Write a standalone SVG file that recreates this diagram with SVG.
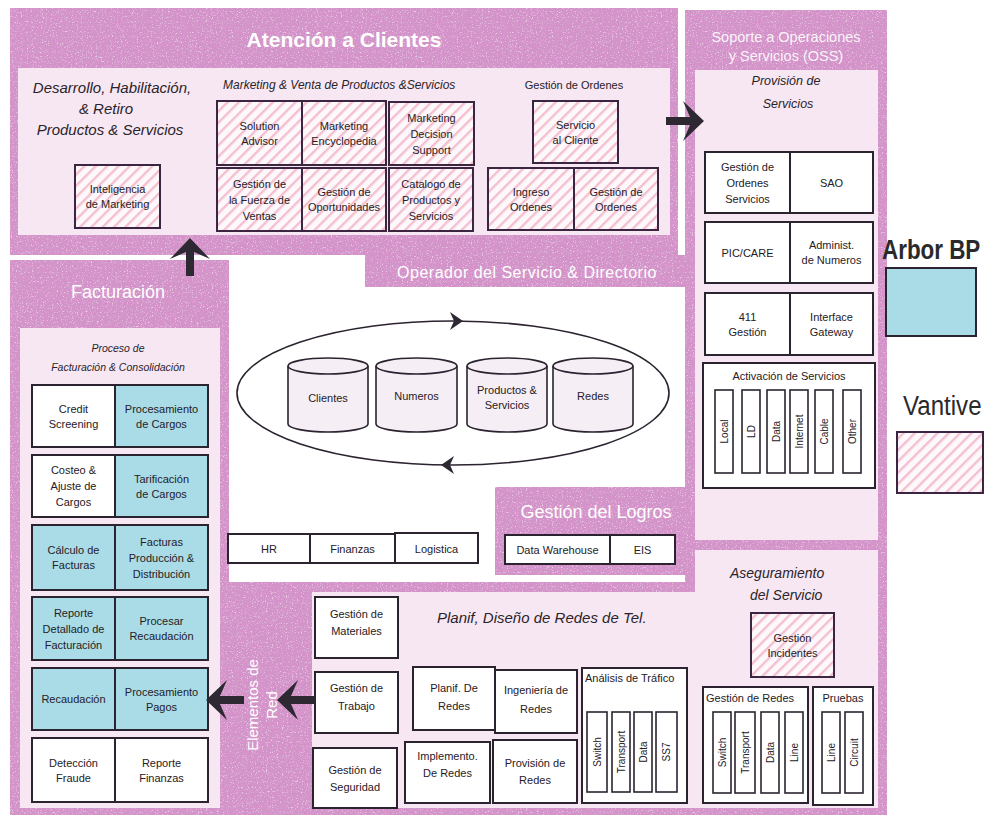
<svg xmlns="http://www.w3.org/2000/svg" width="993" height="818" viewBox="0 0 993 818">
<defs>
  <pattern id="hatch" patternUnits="userSpaceOnUse" width="8" height="8" patternTransform="rotate(45)">
    <rect width="8" height="8" fill="#fdf8fb"/>
    <rect width="2.4" height="8" fill="#f4c0d0"/>
  </pattern>
  <filter id="grain" x="0" y="0" width="1" height="1">
    <feTurbulence type="fractalNoise" baseFrequency="0.8" numOctaves="2" seed="7" result="n"/>
    <feColorMatrix in="n" type="matrix" values="0 0 0 0 0.6  0 0 0 0 0.34  0 0 0 0 0.58  2.6 0 0 0 -1.2" result="dk"/>
    <feColorMatrix in="n" type="matrix" values="0 0 0 0 1  0 0 0 0 0.88  0 0 0 0 0.97  0 2.4 0 0 -1.4" result="lt"/>
    <feMerge result="m"><feMergeNode in="SourceGraphic"/><feMergeNode in="dk"/><feMergeNode in="lt"/></feMerge>
    <feComposite in="m" in2="SourceGraphic" operator="in"/>
  </filter>
  <path id="arw" d="M0,0 L-21,-20 L-14,-4 L-38,-4 L-38,4 L-14,4 L-21,20 Z"/>
  <style>
    .pk{fill:#d591c9;filter:url(#grain)}
    .pn{fill:#f7e7f3}
    .bx{fill:#fff;stroke:#2b2330;stroke-width:2}
    .ht{fill:url(#hatch);stroke:#3b2540;stroke-width:2}
    .bl{fill:#a9dce7;stroke:#2b2330;stroke-width:2}
    .bar{fill:#fff;stroke:#2b2330;stroke-width:1.6}
    .db{fill:#f6eef5;stroke:#2b2330;stroke-width:1.6}
    .edge{fill:none;stroke:#2b2330;stroke-width:1.6}
    text{font-family:"Liberation Sans",Arial,sans-serif}
    .t{font-size:11px;fill:#262026;text-anchor:middle}
    .tl{font-size:11px;fill:#262026}
    .tv{font-size:10px;fill:#262026;text-anchor:middle;dominant-baseline:central}
    .hd{fill:#fff;text-anchor:middle}
    .it{font-style:italic;fill:#2a242a}
    .lg{font-size:28px;fill:#2a2a2a}
    .ar{fill:#2e2832}
    .cyc{fill:none;stroke:#2b2330;stroke-width:1.6}
  </style>
</defs>

<rect width="993" height="818" fill="#fff"/>

<!-- background areas -->
<g id="areas">
  <rect class="pk" x="10" y="8" width="668" height="247"/>
  <rect class="pn" x="18" y="68" width="652" height="167"/>
  <rect class="pk" x="685" y="10" width="202" height="805"/>
  <rect class="pn" x="695" y="70" width="183" height="470"/>
  <rect class="pk" x="365" y="255" width="325" height="32"/>
  <rect class="pk" x="10" y="260" width="219" height="555"/>
  <rect class="pn" x="20" y="328" width="200" height="480"/>
  <rect class="pk" x="495" y="487" width="195" height="88"/>
  <rect class="pk" x="229" y="582" width="658" height="233"/>
  <path class="pn" d="M312,592 H695 V550 H878 V808 H312 Z"/>
</g>

<!-- section headings -->
<g id="headings">
  <text class="hd" x="344" y="47" font-size="21" font-weight="bold">Atención a Clientes</text>
  <text class="hd" x="786" y="42" font-size="14.5" fill-opacity="0.9">Soporte a Operaciones</text>
  <text class="hd" x="786" y="61" font-size="14.5" fill-opacity="0.9">y Servicios (OSS)</text>
  <text class="hd" x="527" y="278" font-size="16" letter-spacing="0.5">Operador del Servicio &amp; Directorio</text>
  <text class="hd" x="118" y="298" font-size="18">Facturación</text>
  <text class="hd" x="596" y="518" font-size="18">Gestión del Logros</text>
  <text class="hd" font-size="15" transform="translate(258,705) rotate(-90)"><tspan x="0" y="0">Elementos de</tspan><tspan x="0" y="19">Red</tspan></text>
  <text class="it" x="112" y="93" font-size="15" text-anchor="middle">Desarrollo, Habilitación,</text>
  <text class="it" x="106" y="114" font-size="15" text-anchor="middle">&amp; Retiro</text>
  <text class="it" x="110" y="135" font-size="15" text-anchor="middle">Productos &amp; Servicios</text>
  <text class="it" x="223" y="89" font-size="12">Marketing &amp; Venta de Productos &amp;Servicios</text>
  <text class="t" x="574" y="89">Gestión de Ordenes</text>
  <text class="it" x="786" y="85" font-size="12.5" text-anchor="middle">Provisión de</text>
  <text class="it" x="788" y="108" font-size="12.5" text-anchor="middle">Servicios</text>
  <text class="it" x="118" y="352" font-size="10.5" text-anchor="middle">Proceso de</text>
  <text class="it" x="118" y="371" font-size="10.5" text-anchor="middle">Facturación &amp; Consolidación</text>
  <text class="it" x="437" y="623" font-size="15">Planif, Diseño de Redes de Tel.</text>
  <text class="it" x="730" y="578" font-size="14">Aseguramiento</text>
  <text class="it" x="750" y="600" font-size="14">del Servicio</text>
</g>

<!-- customer care -->
<g id="inteligencia-marketing"><rect class="ht" x="75" y="165" width="85" height="63"/><text class="t" x="117.5" y="193">Inteligencia<tspan x="117.5" y="208">de Marketing</tspan></text></g>
<g id="solution-advisor"><rect class="ht" x="217" y="101" width="85" height="64"/><text class="t" x="259.5" y="129.5">Solution<tspan x="259.5" y="144.5">Advisor</tspan></text></g>
<g id="marketing-encyclopedia"><rect class="ht" x="302" y="101" width="84" height="64"/><text class="t" x="344" y="129.5">Marketing<tspan x="344" y="144.5">Encyclopedia</tspan></text></g>
<g id="marketing-decision"><rect class="ht" x="389" y="102" width="85" height="63"/><text class="t" x="431.5" y="121.5">Marketing<tspan x="431.5" y="137.5">Decision</tspan><tspan x="431.5" y="153.5">Support</tspan></text></g>
<g id="fuerza-ventas"><rect class="ht" x="217" y="168" width="85" height="63"/><text class="t" x="259.5" y="187.5">Gestión de<tspan x="259.5" y="203.5">la Fuerza de</tspan><tspan x="259.5" y="219.5">Ventas</tspan></text></g>
<g id="oportunidades"><rect class="ht" x="302" y="168" width="84" height="63"/><text class="t" x="344" y="196">Gestión de<tspan x="344" y="211">Oportunidades</tspan></text></g>
<g id="catalogo"><rect class="ht" x="389" y="168" width="84" height="63"/><text class="t" x="431" y="187.5">Catalogo de<tspan x="431" y="203.5">Productos y</tspan><tspan x="431" y="219.5">Servicios</tspan></text></g>
<g id="servicio-cliente"><rect class="ht" x="533" y="101" width="85" height="62"/><text class="t" x="575.5" y="128.5">Servicio<tspan x="575.5" y="143.5">al Cliente</tspan></text></g>
<g id="ingreso-ordenes"><rect class="ht" x="488" y="168" width="86" height="62"/><text class="t" x="531" y="195.5">Ingreso<tspan x="531" y="210.5">Ordenes</tspan></text></g>
<g id="gestion-ordenes"><rect class="ht" x="574" y="168" width="84" height="62"/><text class="t" x="616" y="195.5">Gestión de<tspan x="616" y="210.5">Ordenes</tspan></text></g>

<!-- OSS -->
<g id="ordenes-servicios"><rect class="bx" x="705" y="152" width="85" height="61"/><text class="t" x="747.5" y="170.5">Gestión de<tspan x="747.5" y="186.5">Ordenes</tspan><tspan x="747.5" y="202.5">Servicios</tspan></text></g>
<g id="sao"><rect class="bx" x="790" y="152" width="83" height="61"/><text class="t" x="831.5" y="186.5">SAO</text></g>
<g id="pic-care"><rect class="bx" x="705" y="222" width="85" height="61"/><text class="t" x="747.5" y="256.5">PIC/CARE</text></g>
<g id="admin-numeros"><rect class="bx" x="790" y="222" width="83" height="61"/><text class="t" x="831.5" y="249">Administ.<tspan x="831.5" y="264">de Numeros</tspan></text></g>
<g id="gestion-411"><rect class="bx" x="705" y="293" width="85" height="62"/><text class="t" x="747.5" y="320.5">411<tspan x="747.5" y="335.5">Gestión</tspan></text></g>
<g id="interface-gateway"><rect class="bx" x="790" y="293" width="83" height="62"/><text class="t" x="831.5" y="320.5">Interface<tspan x="831.5" y="335.5">Gateway</tspan></text></g>
<g id="activacion-servicios">
  <rect class="bx" x="703" y="363" width="172" height="125"/>
  <text class="t" x="789" y="380">Activación de Servicios</text>
  <rect class="bar" x="715" y="390" width="18" height="83"/><text class="tv" transform="translate(724,431.5) rotate(-90)">Local</text>
  <rect class="bar" x="742" y="390" width="18" height="83"/><text class="tv" transform="translate(751,431.5) rotate(-90)">LD</text>
  <rect class="bar" x="767" y="390" width="18" height="83"/><text class="tv" transform="translate(776,431.5) rotate(-90)">Data</text>
  <rect class="bar" x="790" y="390" width="18" height="83"/><text class="tv" transform="translate(799,431.5) rotate(-90)">Internet</text>
  <rect class="bar" x="815" y="390" width="18" height="83"/><text class="tv" transform="translate(824,431.5) rotate(-90)">Cable</text>
  <rect class="bar" x="843" y="390" width="18" height="83"/><text class="tv" transform="translate(852,431.5) rotate(-90)">Other</text>
</g>

<!-- legend -->
<g id="legend-arbor"><text class="lg" font-size="30" font-weight="bold" transform="translate(882,259) scale(0.8,1)">Arbor BP</text><rect class="bl" x="886" y="268" width="90" height="68"/></g>
<g id="legend-vantive"><text class="lg" transform="translate(903,415) scale(0.86,1)">Vantive</text><rect class="ht" x="897" y="432" width="86" height="61"/></g>

<!-- billing -->
<g id="credit-screening"><rect class="bx" x="32" y="385" width="83" height="62"/><text class="t" x="73.5" y="412.5">Credit<tspan x="73.5" y="427.5">Screening</tspan></text></g>
<g id="procesamiento-cargos"><rect class="bl" x="115" y="385" width="93" height="62"/><text class="t" x="161.5" y="412.5">Procesamiento<tspan x="161.5" y="427.5">de Cargos</tspan></text></g>
<g id="costeo-ajuste"><rect class="bx" x="32" y="455" width="83" height="62"/><text class="t" x="73.5" y="474">Costeo &amp;<tspan x="73.5" y="490">Ajuste de</tspan><tspan x="73.5" y="506">Cargos</tspan></text></g>
<g id="tarificacion"><rect class="bl" x="115" y="455" width="93" height="62"/><text class="t" x="161.5" y="482.5">Tarificación<tspan x="161.5" y="497.5">de Cargos</tspan></text></g>
<g id="calculo-facturas"><rect class="bl" x="32" y="525" width="83" height="65"/><text class="t" x="73.5" y="554">Cálculo de<tspan x="73.5" y="569">Facturas</tspan></text></g>
<g id="facturas-produccion"><rect class="bl" x="115" y="525" width="93" height="65"/><text class="t" x="161.5" y="545.5">Facturas<tspan x="161.5" y="561.5">Producción &amp;</tspan><tspan x="161.5" y="577.5">Distribución</tspan></text></g>
<g id="reporte-detallado"><rect class="bl" x="32" y="597" width="83" height="63"/><text class="t" x="73.5" y="616.5">Reporte<tspan x="73.5" y="632.5">Detallado de</tspan><tspan x="73.5" y="648.5">Facturación</tspan></text></g>
<g id="procesar-recaudacion"><rect class="bl" x="115" y="597" width="93" height="63"/><text class="t" x="161.5" y="625">Procesar<tspan x="161.5" y="640">Recaudación</tspan></text></g>
<g id="recaudacion"><rect class="bl" x="32" y="668" width="83" height="62"/><text class="t" x="73.5" y="703">Recaudación</text></g>
<g id="procesamiento-pagos"><rect class="bl" x="115" y="668" width="93" height="62"/><text class="t" x="161.5" y="695.5">Procesamiento<tspan x="161.5" y="710.5">Pagos</tspan></text></g>
<g id="deteccion-fraude"><rect class="bx" x="32" y="738" width="83" height="64"/><text class="t" x="73.5" y="766.5">Detección<tspan x="73.5" y="781.5">Fraude</tspan></text></g>
<g id="reporte-finanzas"><rect class="bx" x="115" y="738" width="93" height="64"/><text class="t" x="161.5" y="766.5">Reporte<tspan x="161.5" y="781.5">Finanzas</tspan></text></g>

<!-- shared data stores -->
<g id="db-clientes"><path class="db" d="M288,366 A40,8 0 0 1 368,366 V424 A40,8 0 0 1 288,424 Z"/><path class="edge" d="M288,366 A40,8 0 0 0 368,366"/><text class="t" x="328" y="402">Clientes</text></g>
<g id="db-numeros"><path class="db" d="M376,366 A40.5,8 0 0 1 457,366 V424 A40.5,8 0 0 1 376,424 Z"/><path class="edge" d="M376,366 A40.5,8 0 0 0 457,366"/><text class="t" x="416.5" y="400">Numeros</text></g>
<g id="db-productos"><path class="db" d="M467,366 A40,8 0 0 1 547,366 V424 A40,8 0 0 1 467,424 Z"/><path class="edge" d="M467,366 A40,8 0 0 0 547,366"/><text class="t" x="507" y="394">Productos &amp;<tspan x="507" y="409">Servicios</tspan></text></g>
<g id="db-redes"><path class="db" d="M553,366 A40,8 0 0 1 633,366 V424 A40,8 0 0 1 553,424 Z"/><path class="edge" d="M553,366 A40,8 0 0 0 633,366"/><text class="t" x="593" y="400">Redes</text></g>

<!-- enterprise support -->
<g id="hr"><rect class="bx" x="228" y="534" width="82" height="29"/><text class="t" x="269" y="553">HR</text></g>
<g id="finanzas"><rect class="bx" x="310" y="534" width="85" height="29"/><text class="t" x="352.5" y="553">Finanzas</text></g>
<g id="logistica"><rect class="bx" x="395" y="533" width="83" height="30"/><text class="t" x="436.5" y="553">Logistica</text></g>
<g id="data-warehouse"><rect class="bx" x="505" y="535" width="105" height="29"/><text class="t" x="557.5" y="554">Data Warehouse</text></g>
<g id="eis"><rect class="bx" x="610" y="535" width="65" height="29"/><text class="t" x="642.5" y="554">EIS</text></g>

<!-- network elements -->
<g id="gestion-materiales"><rect class="bx" x="315" y="597" width="83" height="61"/><text class="t" x="356.5" y="618">Gestión de<tspan x="356.5" y="635">Materiales</tspan></text></g>
<g id="gestion-trabajo"><rect class="bx" x="315" y="672" width="83" height="61"/><text class="t" x="356.5" y="692">Gestión de<tspan x="356.5" y="710">Trabajo</tspan></text></g>
<g id="gestion-seguridad"><rect class="bx" x="313" y="748" width="84" height="60"/><text class="t" x="355" y="774">Gestión de<tspan x="355" y="791">Seguridad</tspan></text></g>
<g id="planif-redes"><rect class="bx" x="413" y="667" width="82" height="63"/><text class="t" x="454" y="692">Planif. De<tspan x="454" y="710">Redes</tspan></text></g>
<g id="ingenieria-redes"><rect class="bx" x="495" y="670" width="82" height="63"/><text class="t" x="536" y="694">Ingeniería de<tspan x="536" y="713">Redes</tspan></text></g>
<g id="implemento-redes"><rect class="bx" x="405" y="742" width="85" height="61"/><text class="t" x="447.5" y="760">Implemento.<tspan x="447.5" y="777">De Redes</tspan></text></g>
<g id="provision-redes"><rect class="bx" x="493" y="740" width="84" height="63"/><text class="t" x="535" y="767">Provisión de<tspan x="535" y="784">Redes</tspan></text></g>
<g id="analisis-trafico">
  <rect class="bx" x="582" y="668" width="105" height="135"/>
  <text class="tl" x="585" y="682">Análisis de Tráfico</text>
  <rect class="bar" x="587" y="712" width="20" height="80"/><text class="tv" transform="translate(597,752) rotate(-90)">Switch</text>
  <rect class="bar" x="612" y="712" width="18" height="80"/><text class="tv" transform="translate(621,752) rotate(-90)">Transport</text>
  <rect class="bar" x="634" y="712" width="18" height="80"/><text class="tv" transform="translate(643,752) rotate(-90)">Data</text>
  <rect class="bar" x="656" y="712" width="21" height="80"/><text class="tv" transform="translate(666.5,752) rotate(-90)">SS7</text>
</g>

<!-- service assurance -->
<g id="gestion-incidentes"><rect class="ht" x="751" y="613" width="83" height="64"/><text class="t" x="792.5" y="641.5">Gestión<tspan x="792.5" y="656.5">Incidentes</tspan></text></g>
<g id="gestion-redes">
  <rect class="bx" x="703" y="687" width="105" height="116"/>
  <text class="tl" x="706" y="702">Gestión de Redes</text>
  <rect class="bar" x="713" y="712" width="18" height="81"/><text class="tv" transform="translate(722,752.5) rotate(-90)">Switch</text>
  <rect class="bar" x="735" y="712" width="20" height="81"/><text class="tv" transform="translate(745,752.5) rotate(-90)">Transport</text>
  <rect class="bar" x="761" y="712" width="18" height="81"/><text class="tv" transform="translate(770,752.5) rotate(-90)">Data</text>
  <rect class="bar" x="785" y="712" width="18" height="81"/><text class="tv" transform="translate(794,752.5) rotate(-90)">Line</text>
</g>
<g id="pruebas">
  <rect class="bx" x="813" y="687" width="60" height="118"/>
  <text class="t" x="843" y="702">Pruebas</text>
  <rect class="bar" x="822" y="712" width="18" height="81"/><text class="tv" transform="translate(831,752.5) rotate(-90)">Line</text>
  <rect class="bar" x="845" y="712" width="18" height="81"/><text class="tv" transform="translate(854,752.5) rotate(-90)">Circuit</text>
</g>

<!-- connectors -->
<g id="connectors">
  <ellipse class="cyc" cx="453" cy="393" rx="216" ry="72"/>
  <path class="ar" d="M463,321 L450,312 L454,321 L450,330 Z"/>
  <path class="ar" d="M441,465 L454,456 L450,465 L454,474 Z"/>
  <use href="#arw" class="ar" transform="translate(704,121)"/>
  <use href="#arw" class="ar" transform="translate(190,238) rotate(-90)"/>
  <use href="#arw" class="ar" transform="translate(206,700) rotate(180)"/>
  <use href="#arw" class="ar" transform="translate(277,700) rotate(180)"/>
</g>
</svg>
